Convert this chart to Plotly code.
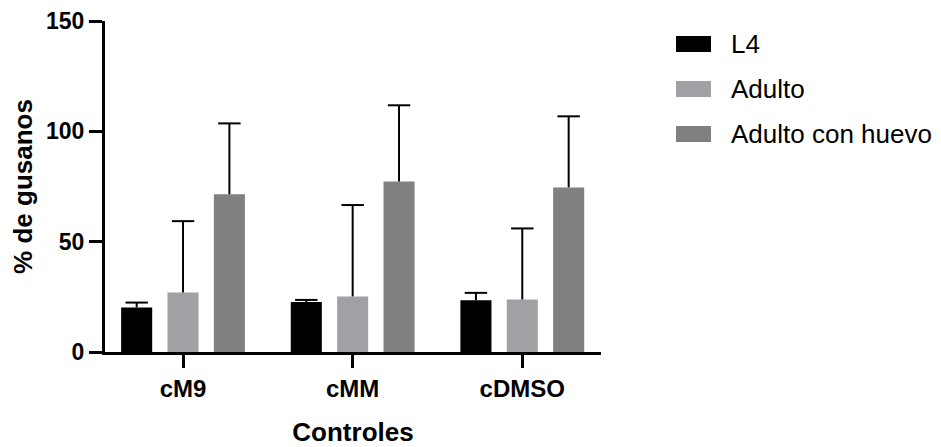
import plotly.graph_objects as go

# ---- data ----
categories = ["cM9", "cMM", "cDMSO"]
series_names = ["L4", "Adulto", "Adulto con huevo"]
l4_values = [20.2, 22.7, 23.5]
l4_err = [2.2, 0.9, 3.3]
adulto_values = [27.0, 25.2, 23.8]
adulto_err = [32.3, 41.4, 32.2]
huevo_values = [71.5, 77.3, 74.6]
huevo_err = [32.1, 34.5, 32.2]
y_ticks = [0, 50, 100, 150]

colors = ["#000000", "#a1a0a5", "#808080"]
FONT = "Liberation Sans, Arial, sans-serif"

W, H = 941, 447
ML, MR, MT, MB = 105, 340, 21, 95
PW = W - ML - MR
PH = H - MT - MB

fig = go.Figure()
all_vals = [l4_values, adulto_values, huevo_values]
all_errs = [l4_err, adulto_err, huevo_err]
for i, (name, vals, errs, col) in enumerate(zip(series_names, all_vals,
                                                 all_errs, colors)):
    fig.add_trace(go.Bar(
        x=categories, y=vals, name=name, offsetgroup=str(i),
        marker=dict(color=col, line=dict(width=0)),
        error_y=dict(type="data", array=errs, symmetric=False,
                     arrayminus=[0] * len(errs), color="#000000",
                     thickness=2, width=0),
        showlegend=False,
    ))
# top caps of the error bars
for i, (vals, errs) in enumerate(zip(all_vals, all_errs)):
    fig.add_trace(go.Scatter(
        x=categories, y=[v + e for v, e in zip(vals, errs)],
        mode="markers", offsetgroup=str(i), showlegend=False,
        marker=dict(symbol="line-ew", size=16, color="#000000",
                    line=dict(width=2, color="#000000")),
        hoverinfo="skip",
    ))

# custom legend (wide swatches like the original)
def px2paper_x(px):
    return (px - ML) / PW

def px2paper_y(py):
    return 1 - (py - MT) / PH

legend_rows_y = [44, 89, 134]
for name, col, cy in zip(series_names, colors, legend_rows_y):
    fig.add_shape(type="rect", xref="paper", yref="paper",
                  x0=px2paper_x(676), x1=px2paper_x(711),
                  y0=px2paper_y(cy - 8), y1=px2paper_y(cy + 8),
                  fillcolor=col, line=dict(width=0))
    fig.add_annotation(xref="paper", yref="paper",
                       x=px2paper_x(730), y=px2paper_y(cy),
                       text=name, showarrow=False, xanchor="left",
                       yanchor="middle", borderpad=0,
                       font=dict(family=FONT, size=26, color="#000000"))

fig.update_layout(
    width=W, height=H,
    margin=dict(l=ML, r=MR, t=MT, b=MB),
    paper_bgcolor="white", plot_bgcolor="white",
    barmode="group", bargap=0.18, bargroupgap=0.33,
    scattermode="group", scattergap=0.18,
    font=dict(family=FONT, color="#000000"),
)
fig.update_xaxes(
    automargin=False,
    range=[-0.46, 2.464], showgrid=False, zeroline=False,
    showline=True, linecolor="#000000", linewidth=3,
    ticks="outside", ticklen=13, tickwidth=3, tickcolor="#000000",
    tickfont=dict(family=FONT, size=24, color="#000000", weight="bold"),
    title=dict(text="<b>Controles</b>", font=dict(family=FONT, size=26),
               standoff=25),
)
fig.update_yaxes(
    automargin=False,
    range=[0, 150], tickvals=y_ticks, ticktext=[str(v) for v in y_ticks],
    showgrid=False, zeroline=False,
    showline=True, linecolor="#000000", linewidth=3,
    ticks="outside", ticklen=13, tickwidth=3, tickcolor="#000000",
    tickfont=dict(family=FONT, size=23, color="#000000", weight="bold"),
    title=dict(text="<b>% de gusanos</b>", font=dict(family=FONT, size=26),
               standoff=6),
)

fig.write_html("out.html",
               config={"displayModeBar": False},
               post_script="document.body.style.margin='0';")
